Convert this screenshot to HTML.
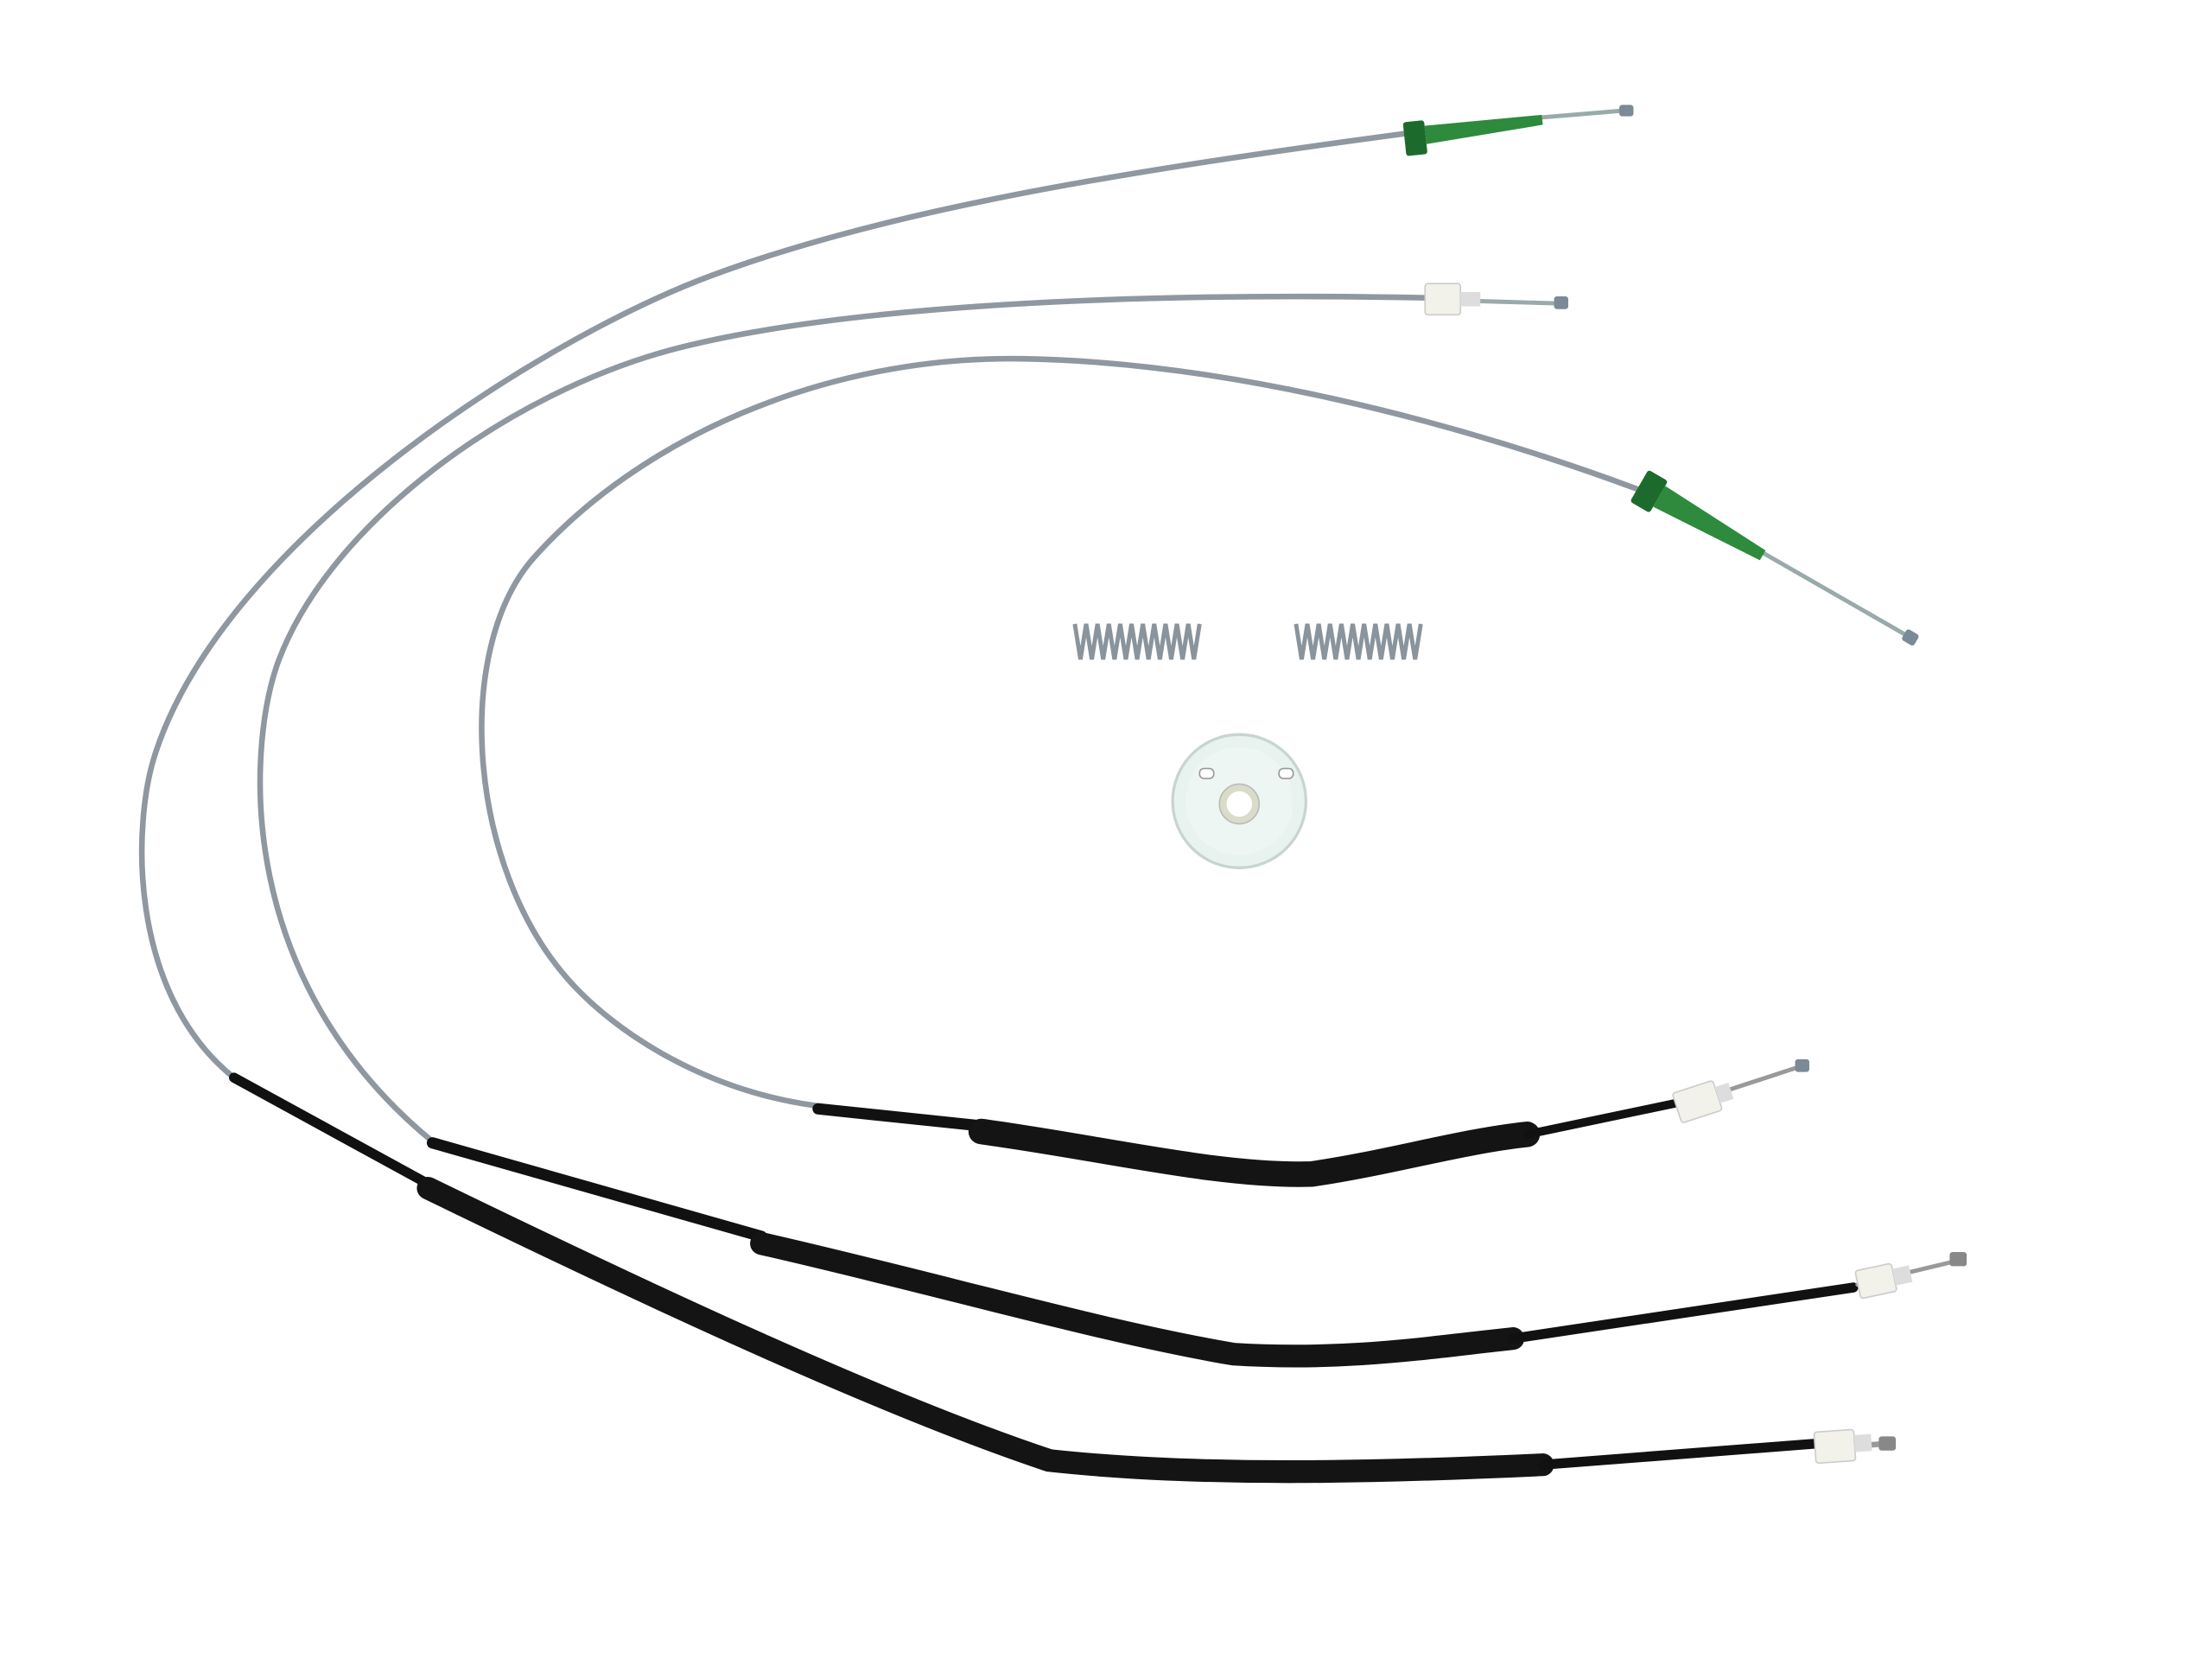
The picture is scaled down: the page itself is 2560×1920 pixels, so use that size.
<!DOCTYPE html>
<html><head><meta charset="utf-8"><style>
html,body{margin:0;padding:0;background:#fff;width:2560px;height:1920px;overflow:hidden}
svg{display:block}
</style></head><body>
<svg width="2560" height="1920" viewBox="0 0 1560 1170" xmlns="http://www.w3.org/2000/svg">
<rect width="1560" height="1170" fill="#fff"/>
<g fill="none" stroke-linecap="round">
<path d="M1000,93 C780,122 620,150 500,195 C380,240 160,380 110,530 C93,580 90,700 165,760" stroke="#8f98a0" stroke-width="4"/>
<path d="M1085,83 L1145,78" stroke="#9aa" stroke-width="3"/>
<path d="M165,760 L302,835" stroke="#111" stroke-width="7"/>
<path d="M302,838 C450,910 620,990 740,1030 C850,1042 980,1038 1088,1033" stroke="#141414" stroke-width="16"/>
<path d="M1088,1033 L1282,1018" stroke="#111" stroke-width="7"/>
<path d="M1306,1020 L1332,1018" stroke="#999" stroke-width="4"/>
<path d="M1005,210 C800,206 600,215 480,245 C360,275 230,370 195,470 C175,530 165,690 305,805" stroke="#8f98a0" stroke-width="4"/>
<path d="M1030,212 L1100,214" stroke="#9aa" stroke-width="3"/>
<path d="M305,806 L537,872" stroke="#111" stroke-width="8"/>
<path d="M537,877 C660,905 780,940 870,955 C950,960 1010,950 1067,944" stroke="#141414" stroke-width="16"/>
<path d="M1067,944 L1307,908" stroke="#111" stroke-width="7"/>
<path d="M1310,906 L1385,888" stroke="#999" stroke-width="3"/>
<path d="M1155,345 C1020,295 860,255 720,253 C580,251 450,310 375,395 C320,460 330,610 400,690 C435,730 500,770 577,780" stroke="#8f98a0" stroke-width="4"/>
<path d="M1240,388 L1348,450" stroke="#9aa" stroke-width="3"/>
<path d="M577,782 L692,794" stroke="#111" stroke-width="8"/>
<path d="M692,798 C780,810 860,830 925,828 C980,820 1030,805 1077,800" stroke="#141414" stroke-width="18"/>
<path d="M1077,800 L1182,778" stroke="#111" stroke-width="6"/>
<path d="M1215,770 L1270,752" stroke="#999" stroke-width="3"/>
</g>
<g transform="rotate(-6 1040 90)">
<rect x="990" y="81" width="15" height="24" rx="2" fill="#1d6b2c"/>
<path d="M1005,85 L1088,86 L1088,93 L1005,98 Z" fill="#2e8a3c"/>
</g>
<rect x="1142" y="74" width="10" height="8" rx="2" fill="#7a8a96"/>
<rect x="1005" y="200" width="25" height="22" rx="2" fill="#f2f2ea" stroke="#ccc"/>
<rect x="1030" y="206" width="14" height="10" fill="#ddd"/>
<rect x="1096" y="209" width="10" height="9" rx="2" fill="#7a8a96"/>
<g transform="rotate(30 1195 365)">
<rect x="1150" y="352" width="16" height="26" rx="2" fill="#1d6b2c"/>
<path d="M1166,356 L1250,360 L1250,368 L1166,373 Z" fill="#2e8a3c"/>
</g>
<rect x="1342" y="445" width="10" height="9" rx="2" fill="#7a8a96" transform="rotate(30 1347 450)"/>
<g transform="rotate(-18 1197 777)"><rect x="1182" y="766" width="30" height="22" rx="2" fill="#f2f2ea" stroke="#ccc"/><rect x="1212" y="771" width="10" height="12" fill="#ddd"/></g>
<rect x="1266" y="747" width="10" height="9" rx="2" fill="#7a8a96"/>
<g transform="rotate(-12 1325 903)"><rect x="1310" y="893" width="26" height="20" rx="2" fill="#f2f2ea" stroke="#ccc"/><rect x="1336" y="897" width="12" height="12" fill="#ddd"/></g>
<rect x="1375" y="883" width="12" height="10" rx="2" fill="#888"/>
<g transform="rotate(-4 1295 1020)"><rect x="1280" y="1009" width="28" height="22" rx="2" fill="#f2f2ea" stroke="#ccc"/><rect x="1308" y="1013" width="12" height="12" fill="#ddd"/></g>
<rect x="1325" y="1013" width="12" height="10" rx="2" fill="#888"/>
<g stroke="#8a949c" stroke-width="3" fill="none">
<path d="M758,440 l4,25 l4,-25 l4,25 l4,-25 l4,25 l4,-25 l4,25 l4,-25 l4,25 l4,-25 l4,25 l4,-25 l4,25 l4,-25 l4,25 l4,-25 l4,25 l4,-25 l4,25 l4,-25 l4,25 l4,-25"/>
<path d="M914,440 l4,25 l4,-25 l4,25 l4,-25 l4,25 l4,-25 l4,25 l4,-25 l4,25 l4,-25 l4,25 l4,-25 l4,25 l4,-25 l4,25 l4,-25 l4,25 l4,-25 l4,25 l4,-25 l4,25 l4,-25"/>
</g>
<circle cx="874" cy="565" r="47" fill="#e8f2ef" stroke="#c8d4d2" stroke-width="2"/>
<circle cx="874" cy="565" r="38" fill="#eef6f3"/>
<circle cx="874" cy="567" r="14" fill="#d8dcc8" stroke="#bbb"/>
<circle cx="874" cy="567" r="9" fill="#fff"/>
<rect x="846" y="542" width="10" height="7" rx="3" fill="#fff" stroke="#999"/>
<rect x="902" y="542" width="10" height="7" rx="3" fill="#fff" stroke="#999"/>
</svg>
</body></html>
